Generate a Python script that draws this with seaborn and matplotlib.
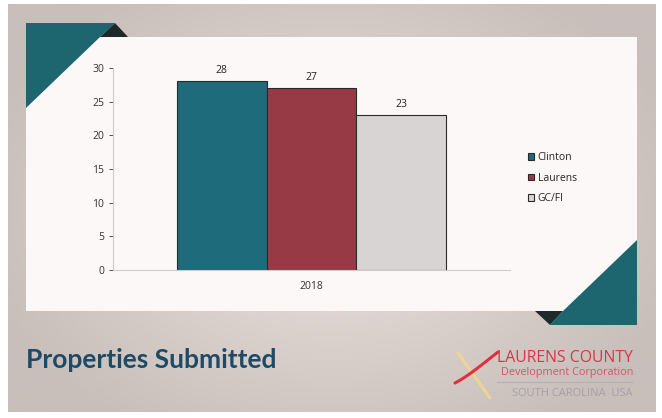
import numpy as np
import pandas as pd
import matplotlib
matplotlib.use("Agg")
import matplotlib.pyplot as plt
import seaborn as sns
from matplotlib.patches import Polygon

# ---- data ----
categories = ["2018"]
series = ["Clinton", "Laurens", "GC/FI"]
values = [28, 27, 23]
colors = ["#1e6b7b", "#973a46", "#d9d4d4"]
yticks = [0, 5, 10, 15, 20, 25, 30]
title = "Properties Submitted"

df = pd.DataFrame({"year": categories * len(series), "city": series, "value": values})

sns.set_theme(style="white")
plt.rcParams["font.family"] = ["Open Sans", "DejaVu Sans"]

W, H = 662, 418
fig = plt.figure(figsize=(W / 100, H / 100), dpi=100)
fig.patch.set_facecolor("white")

def px(x0, y0, x1, y1):
    return [x0 / W, 1 - y1 / H, (x1 - x0) / W, (y1 - y0) / H]

# slide background with gradient
bg = fig.add_axes(px(8, 4, 656, 412), zorder=-10)
gx = np.linspace(-1, 1, 300)
gy = np.linspace(-1, 1, 200)
X, Y = np.meshgrid(gx, gy)
R = np.clip(np.sqrt(X**2 * 0.8 + Y**2 * 0.6), 0, 1)
c_in = np.array([236, 228, 224]) / 255
c_out = np.array([200, 190, 186]) / 255
img = c_in[None, None, :] * (1 - R[..., None]) + c_out[None, None, :] * R[..., None]
bg.imshow(img, aspect="auto", extent=[0, 1, 0, 1])
bg.set_axis_off()

def fpoly(pts, color, z=-5):
    p = Polygon([(x / W, 1 - y / H) for x, y in pts], closed=True,
                transform=fig.transFigure, facecolor=color, edgecolor="none", zorder=z)
    fig.patches.append(p)

# white panel
fpoly([(26, 37), (637, 37), (637, 311), (26, 311)], "#fbf8f7", -6)
# top-left folded corner
fpoly([(115, 23), (128, 37), (100, 37)], "#1e2a2a", -5)
fpoly([(26, 23), (115, 23), (100, 37), (26, 108)], "#1d6670", -4)
# bottom-right folded corner
fpoly([(535, 311), (563, 311), (550, 325)], "#1e2a2a", -5)
fpoly([(637, 240), (637, 325), (550, 325), (563, 311)], "#1d6670", -4)

# chart axes
ax = fig.add_axes(px(113, 68, 510, 270))
ax.set_facecolor("none")
sns.barplot(data=df, x="year", y="value", hue="city", hue_order=series,
            palette=colors, width=0.68, ax=ax, saturation=1,
            edgecolor="#2a2a2a", linewidth=0.8, legend=True)
for cont in ax.containers:
    ax.bar_label(cont, padding=4, fontsize=7.5, color="#222222")
ax.set_ylim(0, 30)
ax.set_yticks(yticks)
ax.tick_params(axis="y", labelsize=7.5, colors="#333333", length=3, left=True, width=0.6)
ax.tick_params(axis="x", labelsize=7.5, colors="#333333", pad=8, length=0)
ax.set_xlabel("")
ax.set_ylabel("")
for s in ["top", "right"]:
    ax.spines[s].set_visible(False)
ax.spines["left"].set_color("#cccccc")
ax.spines["bottom"].set_color("#cccccc")
ax.spines["left"].set_linewidth(0.8)
ax.spines["bottom"].set_linewidth(0.8)

handles, labels = ax.get_legend_handles_labels()
ax.legend_.remove()
fig.legend(handles, labels, loc="upper left", bbox_to_anchor=(524 / W, 1 - 148 / H),
           frameon=False, fontsize=7.5, handlelength=0.6, handleheight=0.6,
           handletextpad=0.3, labelspacing=0.9, borderaxespad=0)

# title
fig.text(26 / W, 1 - 360 / H, title, fontsize=19, fontweight="bold",
         color="#1e4a66", va="center", ha="left", family=["Lato", "DejaVu Sans"])

# logo text
fig.text(633 / W, 1 - 358 / H, "LAURENS COUNTY", fontsize=11.3, color="#d6384a",
         ha="right", va="center", family=["Open Sans", "DejaVu Sans"])
fig.text(633 / W, 1 - 372 / H, "Development Corporation", fontsize=7.8, color="#d6556a",
         ha="right", va="center", family=["Open Sans", "DejaVu Sans"])
fig.add_artist(plt.Line2D([497 / W, 633 / W], [1 - 382 / H, 1 - 382 / H],
                          color="#b8b0b0", linewidth=0.8))
fig.text(633 / W, 1 - 393 / H, "SOUTH CAROLINA  USA", fontsize=8, color="#a8a0a8",
         ha="right", va="center", family=["Open Sans", "DejaVu Sans"])
# swoosh of logo
t = np.linspace(0, 1, 50)
fig.add_artist(plt.Line2D((458 + 32 * t) / W, 1 - (353 + 45 * t) / H,
                          color="#f2d98a", linewidth=2.2, alpha=0.85))
fig.add_artist(plt.Line2D((455 + 43 * t) / W, 1 - (383 - 14 * np.sin(np.pi * t / 2) - 17 * t**2) / H,
                          color="#e03040", linewidth=2.2))

fig.savefig("out.png", dpi=100)
